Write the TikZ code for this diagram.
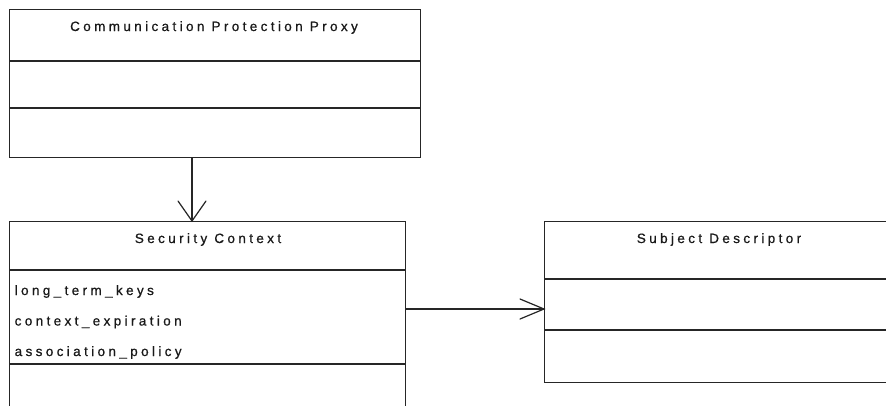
\documentclass[tikz,border=0pt]{standalone}
\usepackage{fontspec}
\setmainfont{Liberation Sans}[LetterSpace=25, FakeBold=0.7]
\begin{document}
\begin{tikzpicture}[x=1pt,y=-1pt,
  line width=1.4pt,
  ink/.style={black!85},
  classbox/.style={draw=black!85, fill=white, rectangle, inner sep=0pt, anchor=north west},
  title/.style={font=\fontsize{13.5}{15}\selectfont, text=black!90, inner sep=0pt, anchor=base},
  attr/.style={font=\fontsize{13.5}{15}\selectfont, text=black!90, inner sep=0pt, anchor=base west},
  link/.style={draw=black!85, line width=1.2pt},
  barb/.style={draw=black!85, line width=1.2pt, line cap=round}]
\useasboundingbox (0,0) rectangle (886,405);
\fill[white] (0,0) rectangle (886,405);
\clip (0,0) rectangle (886,405);

% Communication Protection Proxy
\node[classbox, minimum width=411pt, minimum height=148pt] (cpp) at (9,9) {};
\draw[ink] (cpp.west |- 0,61) -- (cpp.east |- 0,61);
\draw[ink] (cpp.west |- 0,108) -- (cpp.east |- 0,108);
\node[title] (cppname) at (214,31) {Communication Protection Proxy};

% Security Context (runs past the lower edge)
\node[classbox, minimum width=396pt, minimum height=220pt] (sc) at (9,221) {};
\draw[ink] (sc.west |- 0,270) -- (sc.east |- 0,270);
\draw[ink] (sc.west |- 0,364) -- (sc.east |- 0,364);
\node[title] (scname) at (208,243) {Security Context};
\node[attr] (a1) at (14,295) {long\_term\_keys};
\node[attr] (a2) at (14,325.5) {context\_expiration};
\node[attr] (a3) at (14,356) {association\_policy};

% Subject Descriptor (runs past the right edge)
\node[classbox, minimum width=380pt, minimum height=161pt] (sd) at (544,221) {};
\draw[ink] (sd.west |- 0,279) -- (sd.east |- 0,279);
\draw[ink] (sd.west |- 0,330) -- (sd.east |- 0,330);
\node[title] (sdname) at (719,243) {Subject Descriptor};

% Associations with open arrowheads
\coordinate (vx) at (192,0);
\coordinate (hy) at (0,309);
\draw[link] (cpp.south -| vx) -- (sc.north -| vx) coordinate (vtip);
\draw[barb] ([xshift=-14pt,yshift=20pt]vtip) -- (vtip) -- ([xshift=14pt,yshift=20pt]vtip);
\draw[link] (sc.east |- hy) -- (sd.west |- hy) coordinate (htip);
\draw[barb] ([xshift=-24pt,yshift=10pt]htip) -- (htip) -- ([xshift=-24pt,yshift=-10pt]htip);
\end{tikzpicture}
\end{document}
